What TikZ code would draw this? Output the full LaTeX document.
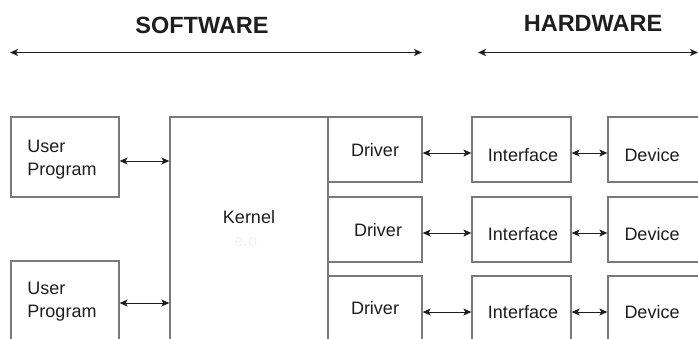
\documentclass[tikz,border=0pt]{standalone}
\usepackage{fontspec}
\setmainfont{Liberation Sans}
\usetikzlibrary{arrows.meta,calc}
\definecolor{boxgray}{HTML}{7A7A7A}
\definecolor{ink}{HTML}{1E1E1E}
\definecolor{faint}{HTML}{F1F1F1}
\begin{document}
\begin{tikzpicture}[x=1pt,y=-1pt,
  box/.style={draw=boxgray, line width=1.3pt, inner sep=0pt, minimum width=#1},
  box/.default=99pt,
  arr/.style={{Stealth[length=8pt,width=7pt,inset=2pt]}-{Stealth[length=8pt,width=7pt,inset=2pt]}, draw=ink, line width=1pt},
  lbl/.style={font=\fontsize{18}{23}\selectfont, text=ink, inner sep=0pt},
  ttl/.style={font=\fontsize{23.5}{26}\selectfont\bfseries, text=ink, inner sep=0pt}]
\clip (0,0) rectangle (698,338);
\useasboundingbox (0,0) rectangle (698,338);
\fill[white] (0,0) rectangle (698,338);
% titles
\node[ttl] (sw) at (202,25) {SOFTWARE};
\node[ttl] (hw) at (593,23) {HARDWARE};
\coordinate (swl) at (10,52.5);
\coordinate (swr) at (422,52.5);
\coordinate (hwl) at (478,52.5);
\coordinate (hwr) at (698,52.5);
\draw[arr] (swl) -- (swr);
\draw[arr] (hwl) -- (hwr);
% boxes
\node[box=108pt, minimum height=80pt] (up1) at (65,157) {};
\node[box=108pt, minimum height=80pt] (up2) at (65,301) {};
\node[box=158pt, minimum height=224pt] (kern) at (249,229) {};
\node[box=94pt, minimum height=65pt] (drv1) at (375,149.5) {};
\node[box=94pt, minimum height=65pt] (drv2) at (375,229.5) {};
\node[box=94pt, minimum height=65pt] (drv3) at (375,308.5) {};
\node[box, minimum height=65pt] (if1) at (521.5,149.5) {};
\node[box, minimum height=65pt] (if2) at (521.5,229.5) {};
\node[box, minimum height=65pt] (if3) at (521.5,308.5) {};
\node[box, minimum height=65pt] (dev1) at (657.5,149.5) {};
\node[box, minimum height=65pt] (dev2) at (657.5,229.5) {};
\node[box, minimum height=65pt] (dev3) at (657.5,308.5) {};
% labels
\node[lbl, align=left] (tup1) at (62,159.5) {User\\Program};
\node[lbl, align=left] (tup2) at (62,302) {User\\Program};
\node[lbl] (tkern) at (249,217) {Kernel};
\node[font=\fontsize{16}{18}\selectfont, text=faint, inner sep=0pt] (teo) at (248,242) {e.o.};
\node[lbl] (tdrv1) at (375,150) {Driver};
\node[lbl] (tdrv2) at (378,230) {Driver};
\node[lbl] (tdrv3) at (375,308) {Driver};
\foreach \i/\y in {1/155,2/234,3/312}{
  \node[lbl] (tif\i) at (523,\y) {Interface};
  \node[lbl] (tdev\i) at (652,\y) {Device};
}
% connectors
\coordinate (a1) at ($(up1.east)+(0,4)$);
\coordinate (a2) at ($(up2.east)+(0,2)$);
\draw[arr] (a1) -- (a1 -| kern.west);
\draw[arr] (a2) -- (a2 -| kern.west);
\foreach \i in {1,2,3}{
  \coordinate (b\i) at ($(drv\i.east)+(0,3.5)$);
  \draw[arr] (b\i) -- (b\i -| if\i.west);
  \coordinate (c\i) at ($(if\i.east)+(0,3.5)$);
  \draw[arr] (c\i) -- (c\i -| dev\i.west);
}
\end{tikzpicture}
\end{document}
